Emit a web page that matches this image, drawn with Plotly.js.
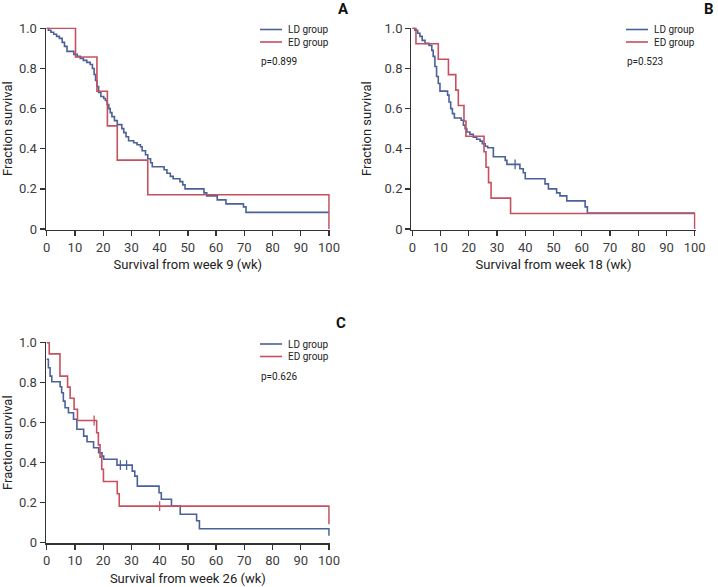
<!DOCTYPE html>
<html>
<head>
<meta charset="utf-8">
<script src="https://cdn.plot.ly/plotly-3.0.1.min.js"></script>
<style>
html,body{margin:0;padding:0;background:#fff;}
#chart{width:718px;height:587px;}
</style>
</head>
<body>
<div id="chart"></div>
<script>
// ---------- DATA ----------
const seriesNames = ["LD group", "ED group"];
const panelLetters = ["A", "B", "C"];
const pValues = ["p=0.899", "p=0.523", "p=0.626"];
const xTitles = ["Survival from week 9 (wk)", "Survival from week 18 (wk)", "Survival from week 26 (wk)"];
const yTitle = "Fraction survival";
const xTickVals = [0, 10, 20, 30, 40, 50, 60, 70, 80, 90, 100];
const xTickText = ["0", "10", "20", "30", "40", "50", "60", "70", "80", "90", "100"];
const yTickVals = [0, 0.2, 0.4, 0.6, 0.8, 1.0];
const yTickText = ["0", "0.2", "0.4", "0.6", "0.8", "1.0"];

// Panel A (week 9)
const aLdTime = [0, 0.6, 1.5, 2.5, 3.5, 4.5, 5.5, 6.3, 7.2, 9.6, 10.8, 11.9, 13, 14.2, 15.4, 16.2, 16.8, 17.3, 17.8, 18.4, 19.2, 20.2, 20.8, 21.4, 22, 22.5, 23.1, 24, 25, 26.6, 27.3, 28.1, 29, 30.8, 32, 33.2, 33.8, 35, 35.8, 36.8, 37.4, 41.6, 42.6, 43.8, 44.8, 47.2, 48.2, 49, 55.7, 56.7, 60.4, 63.5, 69.7, 70.6, 100];
const aLdSurv = [1, 0.99, 0.98, 0.97, 0.96, 0.95, 0.93, 0.91, 0.885, 0.87, 0.86, 0.85, 0.84, 0.83, 0.82, 0.80, 0.77, 0.74, 0.71, 0.68, 0.66, 0.65, 0.64, 0.62, 0.60, 0.58, 0.56, 0.54, 0.52, 0.50, 0.48, 0.46, 0.44, 0.43, 0.42, 0.41, 0.39, 0.37, 0.35, 0.33, 0.31, 0.295, 0.278, 0.262, 0.25, 0.236, 0.22, 0.20, 0.18, 0.165, 0.145, 0.125, 0.11, 0.083, 0.083];
const aEdTime = [0, 10.2, 17.8, 21.5, 25, 35.8, 100, 100];
const aEdSurv = [1, 0.857, 0.686, 0.514, 0.343, 0.171, 0.171, 0];

// Panel B (week 18)
const bLdTime = [0, 0.9, 1.9, 2.7, 3.5, 4.5, 5.9, 6.9, 7.4, 8, 8.6, 9.2, 9.8, 12.5, 13, 13.6, 14.2, 14.9, 17.3, 18.1, 18.7, 19.3, 20.4, 21.6, 22.8, 24, 24.8, 25.8, 26.7, 28.7, 32.9, 33.5, 38.1, 39.3, 40, 47, 48.2, 51.1, 52.3, 54.7, 61.2, 62, 100];
const bLdSurv = [1, 0.99, 0.975, 0.96, 0.94, 0.925, 0.915, 0.89, 0.86, 0.81, 0.76, 0.725, 0.687, 0.667, 0.633, 0.60, 0.575, 0.553, 0.542, 0.517, 0.50, 0.483, 0.472, 0.458, 0.447, 0.438, 0.425, 0.412, 0.405, 0.36, 0.342, 0.322, 0.30, 0.28, 0.25, 0.225, 0.20, 0.18, 0.165, 0.14, 0.11, 0.080, 0.080];
const bEdTime = [0, 1.3, 9.2, 12.8, 15.4, 16.3, 18.3, 19, 25.4, 26.1, 27, 27.9, 34.8, 100, 100];
const bEdSurv = [1, 0.923, 0.846, 0.769, 0.692, 0.615, 0.538, 0.462, 0.385, 0.308, 0.231, 0.154, 0.077, 0.077, 0];
const bLdCensorTime = [36.4];
const bLdCensorSurv = [0.322];

// Panel C (week 26)
const cLdTime = [0, 0.6, 1.2, 1.8, 4.75, 5.3, 5.9, 6.5, 7.7, 9.5, 10.7, 13.1, 14.3, 16.6, 18.4, 19.6, 20.2, 24.9, 30.3, 31.2, 32.1, 39.8, 40.6, 44.2, 47.3, 53.1, 54.1, 100, 100];
const cLdSurv = [0.917, 0.875, 0.833, 0.805, 0.78, 0.75, 0.708, 0.675, 0.65, 0.617, 0.567, 0.533, 0.505, 0.475, 0.45, 0.433, 0.417, 0.388, 0.358, 0.333, 0.283, 0.25, 0.217, 0.183, 0.142, 0.11, 0.07, 0.07, 0.035];
const cEdTime = [0, 0.9, 4.7, 7.4, 8.3, 9.7, 10.9, 17.7, 18.3, 18.9, 19.5, 20.1, 25, 25.7, 100, 100];
const cEdSurv = [1, 0.944, 0.833, 0.778, 0.722, 0.667, 0.611, 0.55, 0.489, 0.428, 0.367, 0.306, 0.245, 0.183, 0.183, 0.092];
const cLdCensorTime = [26.1, 28.3];
const cLdCensorSurv = [0.388, 0.388];
const cEdCensorTime = [16.8, 40];
const cEdCensorSurv = [0.611, 0.183];

// ---------- STYLE ----------
const BLUE = "#4a6199";
const RED = "#c5505f";
const FONT = "Roboto, 'Liberation Sans', sans-serif";
const TXT = "#3c3c3c";

function curve(x, y, color, xa, ya) {
  return {x: x, y: y, xaxis: xa, yaxis: ya, type: "scatter", mode: "lines",
          line: {shape: "hv", color: color, width: 1.6}, showlegend: false, hoverinfo: "skip"};
}
function censor(x, y, color, xa, ya) {
  return {x: x, y: y, xaxis: xa, yaxis: ya, type: "scatter", mode: "markers",
          marker: {symbol: "line-ns", size: 7, line: {color: color, width: 1.3}},
          showlegend: false, hoverinfo: "skip", cliponaxis: false};
}

const traces = [
  curve(aLdTime, aLdSurv, BLUE, "x", "y"),
  curve(aEdTime, aEdSurv, RED, "x", "y"),
  curve(bLdTime, bLdSurv, BLUE, "x2", "y2"),
  curve(bEdTime, bEdSurv, RED, "x2", "y2"),
  censor(bLdCensorTime, bLdCensorSurv, BLUE, "x2", "y2"),
  curve(cLdTime, cLdSurv, BLUE, "x3", "y3"),
  curve(cEdTime, cEdSurv, RED, "x3", "y3"),
  censor(cLdCensorTime, cLdCensorSurv, BLUE, "x3", "y3"),
  censor(cEdCensorTime, cEdCensorSurv, RED, "x3", "y3")
];

function xaxis(domain, anchor, title) {
  return {domain: domain, anchor: anchor, range: [-0.3, 100.3], fixedrange: true,
          showgrid: false, zeroline: false, showline: true, linecolor: "#333", linewidth: 1.3,
          ticks: "outside", ticklen: 5, tickwidth: 1.3, tickcolor: "#333",
          tickvals: xTickVals, ticktext: xTickText,
          tickfont: {family: FONT, size: 13, color: TXT},
          title: {text: title, standoff: 6, font: {family: FONT, size: 13, color: "#222"}}};
}
function yaxis(domain, anchor) {
  return {domain: domain, anchor: anchor, range: [-0.004, 1.004], fixedrange: true,
          showgrid: false, zeroline: false, showline: true, linecolor: "#333", linewidth: 1.3,
          ticks: "outside", ticklen: 5, tickwidth: 1.3, tickcolor: "#333",
          tickvals: yTickVals, ticktext: yTickText,
          tickfont: {family: FONT, size: 13, color: TXT},
          title: {text: yTitle, standoff: 10, font: {family: FONT, size: 13, color: "#222"}}};
}

const xdA = [0.06386, 0.45940], xdB = [0.57305, 0.96873];
const ydTop = [0.60852, 0.95315], ydBot = [0.07411, 0.41755];

// manual legends, p-values and panel letters (paper coords)
const shapes = [], annotations = [];
const panels = [
  {legX: 260, legY: 29.5, letX: 343, letY: 9},
  {legX: 626, legY: 29.5, letX: 709, letY: 9},
  {legX: 260, legY: 344, letX: 341, letY: 323}
];
const colors = [BLUE, RED];
panels.forEach(function (p, i) {
  for (let k = 0; k < 2; k++) {
    const yy = 1 - (p.legY + k * 12.5) / 587;
    shapes.push({type: "line", xref: "paper", yref: "paper",
                 x0: p.legX / 718, x1: (p.legX + 22) / 718, y0: yy, y1: yy,
                 line: {color: colors[k], width: 1.6}});
    annotations.push({xref: "paper", yref: "paper", x: (p.legX + 27) / 718, y: yy,
                      xanchor: "left", yanchor: "middle", showarrow: false, text: seriesNames[k],
                      borderpad: 0,
                      font: {family: FONT, size: 10, color: "#222"}});
  }
  annotations.push({xref: "paper", yref: "paper", x: p.legX / 718, y: 1 - (p.legY + 32) / 587,
                    xanchor: "left", yanchor: "middle", showarrow: false, text: pValues[i],
                    borderpad: 0,
                    font: {family: FONT, size: 10, color: "#222"}});
  annotations.push({xref: "paper", yref: "paper", x: p.letX / 718, y: 1 - p.letY / 587,
                    xanchor: "center", yanchor: "middle", showarrow: false, text: "<b>" + panelLetters[i] + "</b>",
                    font: {family: FONT, size: 15, color: "#111"}});
});

const layout = {
  width: 718, height: 587,
  margin: {l: 0, r: 0, t: 0, b: 0},
  paper_bgcolor: "#fff", plot_bgcolor: "#fff",
  showlegend: false,
  xaxis: xaxis(xdA, "y", xTitles[0]),
  yaxis: yaxis(ydTop, "x"),
  xaxis2: xaxis(xdB, "y2", xTitles[1]),
  yaxis2: yaxis(ydTop, "x2"),
  xaxis3: xaxis(xdA, "y3", xTitles[2]),
  yaxis3: yaxis(ydBot, "x3"),
  shapes: shapes,
  annotations: annotations
};

Plotly.newPlot("chart", traces, layout, {staticPlot: true, displayModeBar: false});
</script>
</body>
</html>
